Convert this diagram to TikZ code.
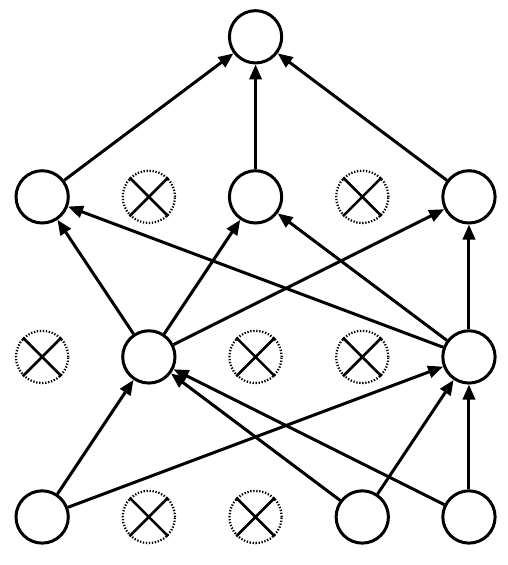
\documentclass[tikz,border=0pt]{standalone}
\usetikzlibrary{arrows.meta}
\begin{document}
\begin{tikzpicture}
        [unit/.style={circle, draw, line width=1.6pt, minimum size=0.98cm, inner sep=0pt},
         dropped/.style={circle, draw, line width=1.2pt, dash pattern=on 0.7pt off 0.9pt, minimum size=0.98cm, inner sep=0pt},
         conn/.style={line width=1.6pt, -{Triangle[length=8pt,width=6.5pt]}}]
            \useasboundingbox (-0.79,-0.90) rectangle (8.73,9.69);
            %unita di ingresso
            \node[unit] (x1) at (0,0) {};
            \node[dropped] (x2) at (2,0) {};
            \node[dropped] (x3) at (4,0) {};
            \node[unit] (x4) at (6,0) {};
            \node[unit] (x5) at (8,0) {};
            %primo strato nascosto
            \node[dropped] (g1) at (0,3) {};
            \node[unit] (g2) at (2,3) {};
            \node[dropped] (g3) at (4,3) {};
            \node[dropped] (g4) at (6,3) {};
            \node[unit] (g5) at (8,3) {};
            %secondo strato nascosto
            \node[unit] (h1) at (0,6) {};
            \node[dropped] (h2) at (2,6) {};
            \node[unit] (h3) at (4,6) {};
            \node[dropped] (h4) at (6,6) {};
            \node[unit] (h5) at (8,6) {};
            %uscita
            \node[unit] (out) at (4,9) {};
            %croci sulle unita spente
            \foreach \d in {x2,x3,g1,g3,g4,h2,h4}
                \draw[line width=1.4pt] (\d.45)--(\d.225) (\d.135)--(\d.315);
            %collegamenti
            \draw[conn] (x1)--(g2);
            \draw[conn] (x1)--(g5);
            \draw[conn] (x4)--(g2);
            \draw[conn] (x4)--(g5);
            \draw[conn] (x5)--(g2);
            \draw[conn] (x5)--(g5);
            \draw[conn] (g2)--(h1);
            \draw[conn] (g2)--(h3);
            \draw[conn] (g2)--(h5);
            \draw[conn] (g5)--(h1);
            \draw[conn] (g5)--(h3);
            \draw[conn] (g5)--(h5);
            \draw[conn] (h1)--(out);
            \draw[conn] (h3)--(out);
            \draw[conn] (h5)--(out);
    \end{tikzpicture}
\end{document}
